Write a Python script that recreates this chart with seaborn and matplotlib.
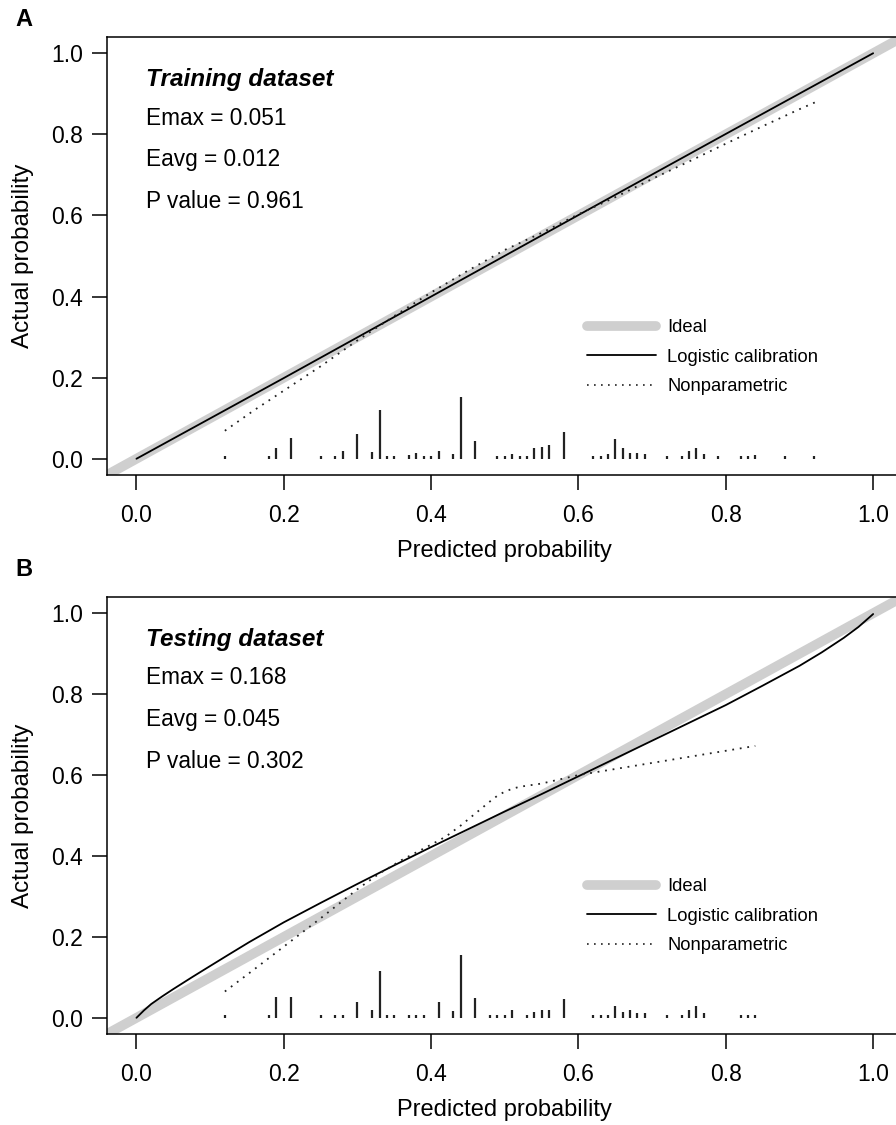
import numpy as np
import matplotlib
matplotlib.use("Agg")
import matplotlib.pyplot as plt
import seaborn as sns
from matplotlib.lines import Line2D

sns.set_style("ticks")
plt.rcParams['font.family'] = ['Liberation Sans', 'DejaVu Sans']
plt.rcParams['text.color'] = 'black'
plt.rcParams['axes.labelcolor'] = 'black'

# ---- data ----
# panel A (training)
train_stats = ["Emax = 0.051", "Eavg = 0.012", "P value = 0.961"]
train_logit_x = [0.0, 0.2, 0.4, 0.6, 0.8, 1.0]
train_logit_y = [0.0, 0.199, 0.400, 0.601, 0.801, 1.0]
train_np_x = [0.12, 0.16, 0.2, 0.25, 0.3, 0.35, 0.4, 0.45, 0.5, 0.55, 0.6,
              0.65, 0.7, 0.75, 0.8, 0.85, 0.9, 0.925]
train_np_y = [0.069, 0.12, 0.168, 0.228, 0.292, 0.352, 0.41, 0.464, 0.515, 0.557, 0.603,
              0.645, 0.69, 0.733, 0.777, 0.82, 0.862, 0.882]
train_rug_x = [0.12, 0.18, 0.19, 0.21, 0.25, 0.27, 0.28, 0.30, 0.32, 0.33, 0.34, 0.35,
               0.37, 0.38, 0.39, 0.40, 0.41, 0.43, 0.44, 0.46, 0.49, 0.50, 0.51, 0.52,
               0.53, 0.54, 0.55, 0.56, 0.58, 0.62, 0.63, 0.64, 0.65, 0.66, 0.67, 0.68,
               0.69, 0.72, 0.74, 0.75, 0.76, 0.77, 0.79, 0.82, 0.83, 0.84, 0.88, 0.92]
train_rug_h = [0.008, 0.008, 0.026, 0.052, 0.008, 0.008, 0.02, 0.062, 0.017, 0.119, 0.008, 0.008,
               0.01, 0.014, 0.008, 0.008, 0.02, 0.012, 0.153, 0.045, 0.008, 0.008, 0.012, 0.008,
               0.008, 0.026, 0.03, 0.035, 0.066, 0.008, 0.008, 0.012, 0.049, 0.026, 0.014, 0.014,
               0.012, 0.008, 0.008, 0.018, 0.026, 0.012, 0.008, 0.008, 0.008, 0.01, 0.008, 0.008]

# panel B (testing)
test_stats = ["Emax = 0.168", "Eavg = 0.045", "P value = 0.302"]
test_logit_x = [0.0, 0.01, 0.02, 0.035, 0.05, 0.076, 0.1, 0.125, 0.153, 0.2, 0.25, 0.3, 0.35,
                0.4, 0.45, 0.5, 0.55, 0.6, 0.65, 0.7, 0.75, 0.8, 0.85, 0.9, 0.93, 0.96,
                0.98, 1.0]
test_logit_y = [0.0, 0.018, 0.034, 0.053, 0.071, 0.101, 0.128, 0.156, 0.187, 0.236, 0.284, 0.331, 0.377,
                0.422, 0.466, 0.51, 0.553, 0.597, 0.641, 0.685, 0.729, 0.773, 0.821, 0.87, 0.903, 0.939,
                0.966, 0.998]
test_np_x = [0.12, 0.16, 0.2, 0.25, 0.3, 0.33, 0.36, 0.4, 0.42, 0.44, 0.46, 0.48, 0.49,
             0.5, 0.51, 0.52, 0.55, 0.6, 0.65, 0.7, 0.75, 0.8, 0.84]
test_np_y = [0.065, 0.12, 0.176, 0.246, 0.318, 0.357, 0.39, 0.428, 0.448, 0.475, 0.505, 0.535, 0.549,
             0.559, 0.566, 0.571, 0.579, 0.6, 0.615, 0.63, 0.645, 0.66, 0.672]
test_rug_x = [0.12, 0.18, 0.19, 0.21, 0.25, 0.27, 0.28, 0.30, 0.32, 0.33, 0.34, 0.35, 0.37,
              0.38, 0.39, 0.41, 0.43, 0.44, 0.46, 0.48, 0.49, 0.50, 0.51, 0.53, 0.54, 0.55,
              0.56, 0.58, 0.62, 0.63, 0.64, 0.65, 0.66, 0.67, 0.68, 0.69, 0.72, 0.74, 0.75,
              0.76, 0.77, 0.82, 0.83, 0.84]
test_rug_h = [0.008, 0.008, 0.051, 0.051, 0.008, 0.008, 0.008, 0.039, 0.02, 0.115, 0.008, 0.008, 0.008,
              0.008, 0.008, 0.039, 0.018, 0.155, 0.049, 0.008, 0.008, 0.008, 0.02, 0.008, 0.014, 0.02,
              0.02, 0.047, 0.008, 0.008, 0.008, 0.03, 0.014, 0.02, 0.012, 0.012, 0.008, 0.008, 0.02,
              0.03, 0.012, 0.008, 0.008, 0.008]

legend_labels = ["Ideal", "Logistic calibration", "Nonparametric"]
IDEAL_COL = "#cfcfcf"
DOT = (0, (1, 3.2))


def draw_panel(ax, title, stats, lx, ly, npx, npy, rx, rh):
    ax.plot([-0.2, 1.2], [-0.2, 1.2], color=IDEAL_COL, lw=7, solid_capstyle="butt", zorder=1)
    sns.lineplot(x=lx, y=ly, ax=ax, color="black", lw=1.3, estimator=None, sort=False, zorder=3)
    sns.lineplot(x=npx, y=npy, ax=ax, color="#222222", lw=1.3, linestyle=DOT,
                 estimator=None, sort=False, zorder=3)
    ax.vlines(rx, 0, rh, color="#222222", lw=1.6, zorder=2)

    ax.set_xlim(-0.04, 1.04)
    ax.set_ylim(-0.04, 1.04)
    ticks = np.arange(0, 1.01, 0.2)
    ax.set_xticks(ticks)
    ax.set_yticks(ticks)
    ax.set_xticklabels([f"{t:.1f}" for t in ticks])
    ax.set_yticklabels([f"{t:.1f}" for t in ticks])
    ax.tick_params(axis="both", direction="out", length=10.8, width=1.1,
                   labelsize=16.5, colors="black")
    ax.tick_params(axis="x", pad=10)
    ax.tick_params(axis="y", pad=6.5)
    for s in ax.spines.values():
        s.set_linewidth(1.1)
        s.set_color("black")

    ax.set_xlabel("Predicted probability", fontsize=17)
    ax.set_ylabel("Actual probability", fontsize=17.5)
    ax.xaxis.set_label_coords(0.5, -0.148)
    ax.yaxis.set_label_coords(-0.092, 0.5)

    ax.text(0.0136, 0.935, title, fontsize=17.5, fontweight="bold", fontstyle="italic",
            va="center", ha="left")
    for yy, s in zip([0.84, 0.738, 0.634], stats):
        ax.text(0.0136, yy, s, fontsize=16.3, va="center", ha="left")

    handles = [Line2D([], [], color=IDEAL_COL, lw=7, solid_capstyle="round"),
               Line2D([], [], color="black", lw=1.3),
               Line2D([], [], color="#222222", lw=1.2, linestyle=DOT)]
    ax.legend(handles, legend_labels, loc="upper left", bbox_to_anchor=(0.603, 0.356),
              frameon=False, fontsize=13.2, handlelength=3.8, handletextpad=0.6,
              labelspacing=0.68, borderpad=0, borderaxespad=0)


fig = plt.figure(figsize=(8.96, 11.25), dpi=100)
ax_a = fig.add_axes([0.1194, 0.5778, 0.888, 0.3893])
ax_b = fig.add_axes([0.1194, 0.0809, 0.888, 0.3884])

draw_panel(ax_a, "Training dataset", train_stats, train_logit_x, train_logit_y,
           train_np_x, train_np_y, train_rug_x, train_rug_h)
draw_panel(ax_b, "Testing dataset", test_stats, test_logit_x, test_logit_y,
           test_np_x, test_np_y, test_rug_x, test_rug_h)

fig.text(15 / 896, 1 - 20 / 1125, "A", fontsize=17, fontweight="bold", va="center", ha="left")
fig.text(15 / 896, 1 - 569.5 / 1125, "B", fontsize=17, fontweight="bold", va="center", ha="left")

fig.savefig("out.png", dpi=100)
